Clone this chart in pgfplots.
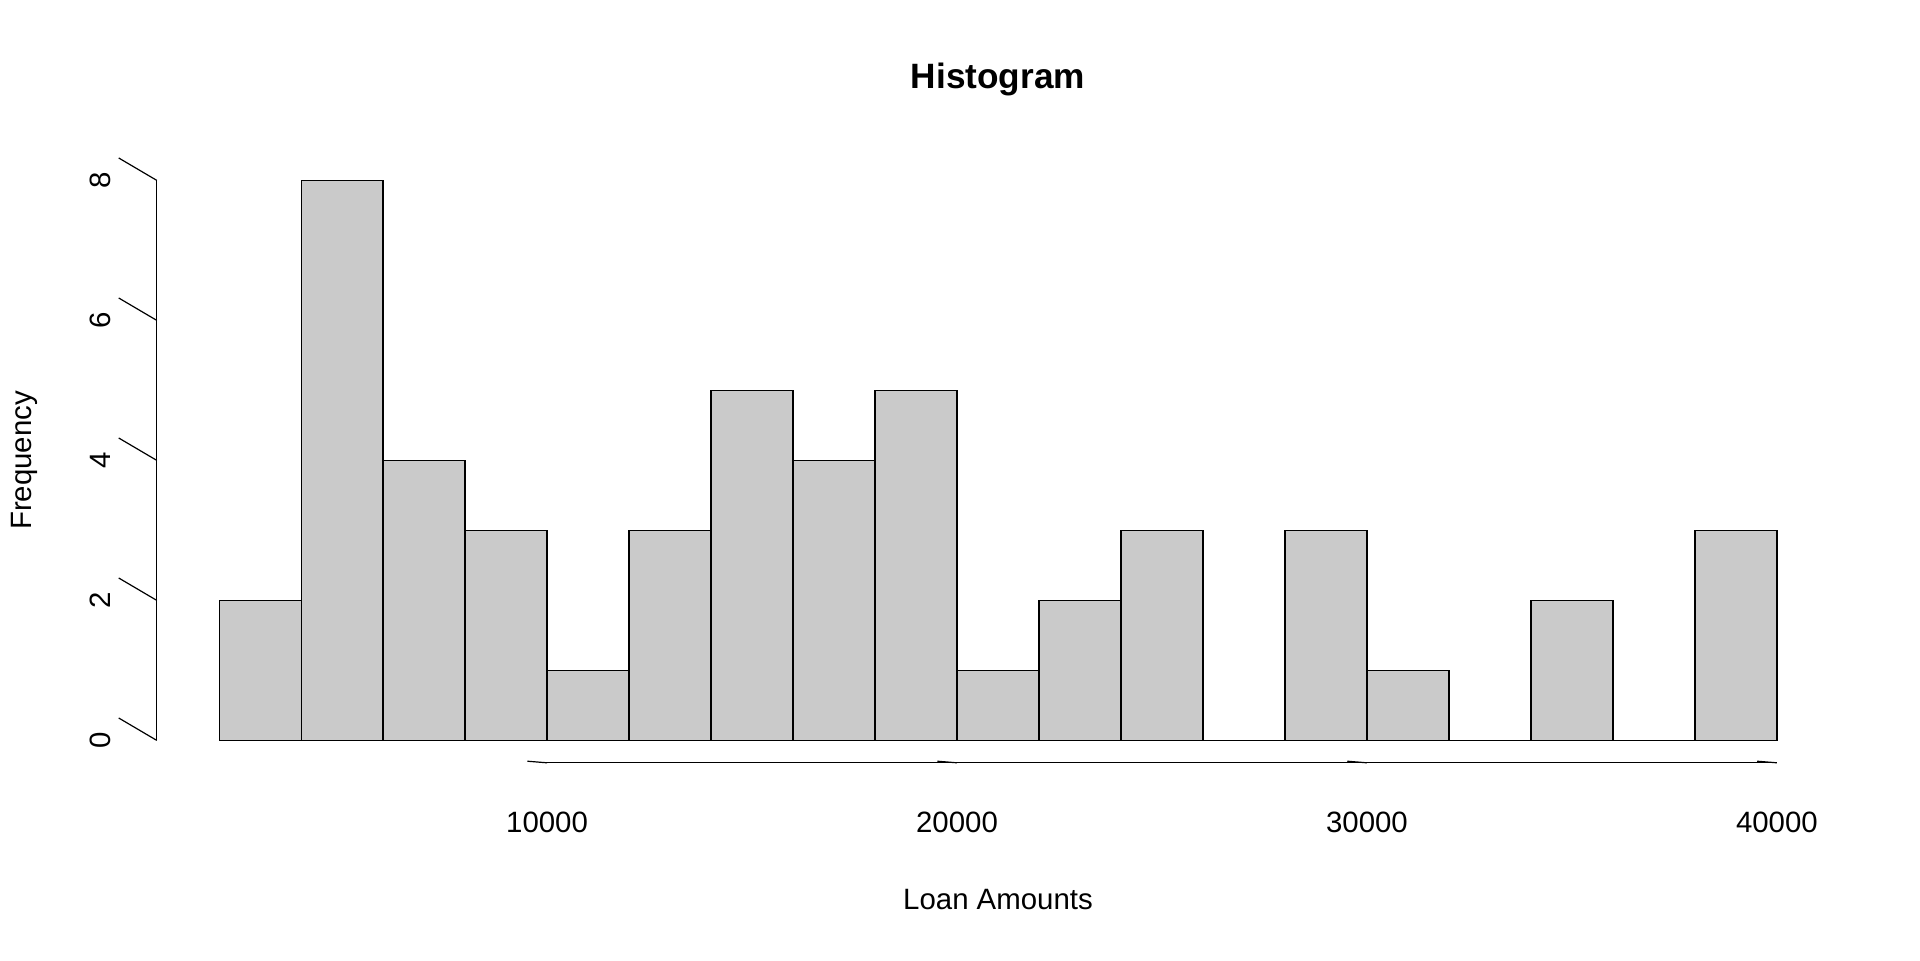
\documentclass[border=0pt]{standalone}
\usepackage{pgfplots}
\pgfplotsset{compat=1.18}
\usepackage{fontspec}
\setmainfont{Liberation Sans}
\definecolor{bargray}{RGB}{202,202,202}
\begin{document}
\begin{tikzpicture}
\useasboundingbox (-78.4pt,-98.6pt) rectangle (881.6pt,381.4pt);
\begin{axis}[at={(0,0)},anchor=south west,scale only axis,
  width=841.2pt,height=302.4pt,xmin=480,xmax=41520,ymin=-0.32,ymax=8.32,
  hide axis,clip=false]
\addplot[ybar interval,fill=bargray,draw=black,line width=0.6pt] coordinates {
(2000,2)(4000,8)(6000,4)(8000,3)(10000,1)(12000,3)(14000,5)(16000,4)(18000,5)
(20000,1)(22000,2)(24000,3)(26000,0)(28000,3)(30000,1)(32000,0)(34000,2)(36000,0)(38000,3)(40000,3)};
\draw[line width=0.6pt] (axis cs:10000,-0.32) -- (axis cs:40000,-0.32);
\draw[line width=0.6pt] (axis cs:480,0) -- (axis cs:480,8);
\pgfplotsinvokeforeach{10000,20000,30000,40000}{
  \draw[line width=0.6pt] (axis cs:#1,-0.32) -- ++(0,-10.4pt);
  \node[yshift=-30pt,font=\fontsize{14.7}{17}\selectfont] at (axis cs:#1,-0.32) {#1};
}
\pgfplotsinvokeforeach{0,2,4,6,8}{
  \draw[line width=0.6pt] (axis cs:480,#1) -- ++(-9.2pt,0);
  \node[xshift=-28.2pt,rotate=90,font=\fontsize{14.7}{17}\selectfont] at (axis cs:480,#1) {#1};
}
\end{axis}
\node[font=\bfseries\fontsize{17.6}{20}\selectfont] at (420.6pt,341.6pt) {Histogram};
\node[font=\fontsize{14.7}{17}\selectfont] at (420.6pt,-68.6pt) {Loan Amounts};
\node[rotate=90,font=\fontsize{14.7}{17}\selectfont] at (-66.2pt,151.2pt) {Frequency};
\end{tikzpicture}
\end{document}
